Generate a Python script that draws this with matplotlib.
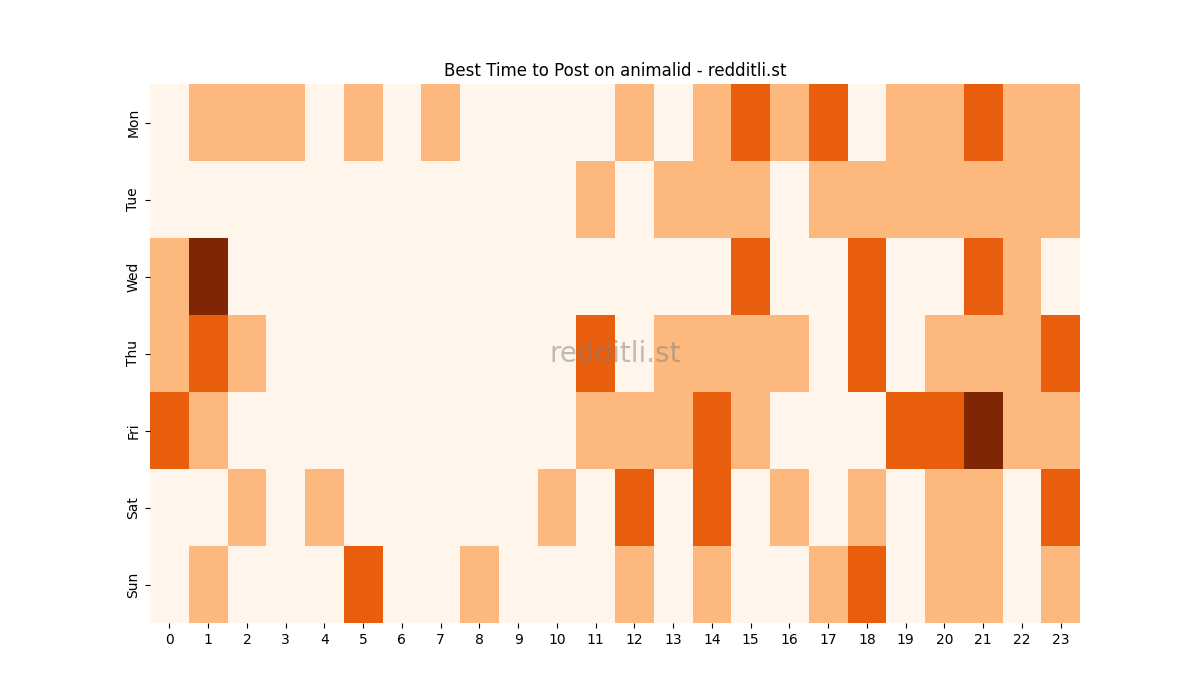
import numpy as np
import matplotlib
matplotlib.use("Agg")
import matplotlib.pyplot as plt
import seaborn as sns

days = ["Mon", "Tue", "Wed", "Thu", "Fri", "Sat", "Sun"]
hours = list(range(24))

# activity level per hour (0..3)
mon = [0, 1, 1, 1, 0, 1, 0, 1, 0, 0, 0, 0, 1, 0, 1, 2, 1, 2, 0, 1, 1, 2, 1, 1]
tue = [0, 0, 0, 0, 0, 0, 0, 0, 0, 0, 0, 1, 0, 1, 1, 1, 0, 1, 1, 1, 1, 1, 1, 1]
wed = [1, 3, 0, 0, 0, 0, 0, 0, 0, 0, 0, 0, 0, 0, 0, 2, 0, 0, 2, 0, 0, 2, 1, 0]
thu = [1, 2, 1, 0, 0, 0, 0, 0, 0, 0, 0, 2, 0, 1, 1, 1, 1, 0, 2, 0, 1, 1, 1, 2]
fri = [2, 1, 0, 0, 0, 0, 0, 0, 0, 0, 0, 1, 1, 1, 2, 1, 0, 0, 0, 2, 2, 3, 1, 1]
sat = [0, 0, 1, 0, 1, 0, 0, 0, 0, 0, 1, 0, 2, 0, 2, 0, 1, 0, 1, 0, 1, 1, 0, 2]
sun = [0, 1, 0, 0, 0, 2, 0, 0, 1, 0, 0, 0, 1, 0, 1, 0, 0, 1, 2, 0, 1, 1, 0, 1]

data = np.array([mon, tue, wed, thu, fri, sat, sun])

fig = plt.figure(figsize=(12, 7), dpi=100)
ax = fig.add_subplot(111)
sns.heatmap(data, cmap="Oranges", vmin=0, vmax=3, cbar=False,
            xticklabels=hours, yticklabels=days, ax=ax)
ax.set_title("Best Time to Post on animalid - redditli.st")
ax.text(0.5, 0.5, "redditli.st", transform=ax.transAxes, fontsize=20,
        color="gray", alpha=0.5, ha="center", va="center")
plt.savefig("out.png")
